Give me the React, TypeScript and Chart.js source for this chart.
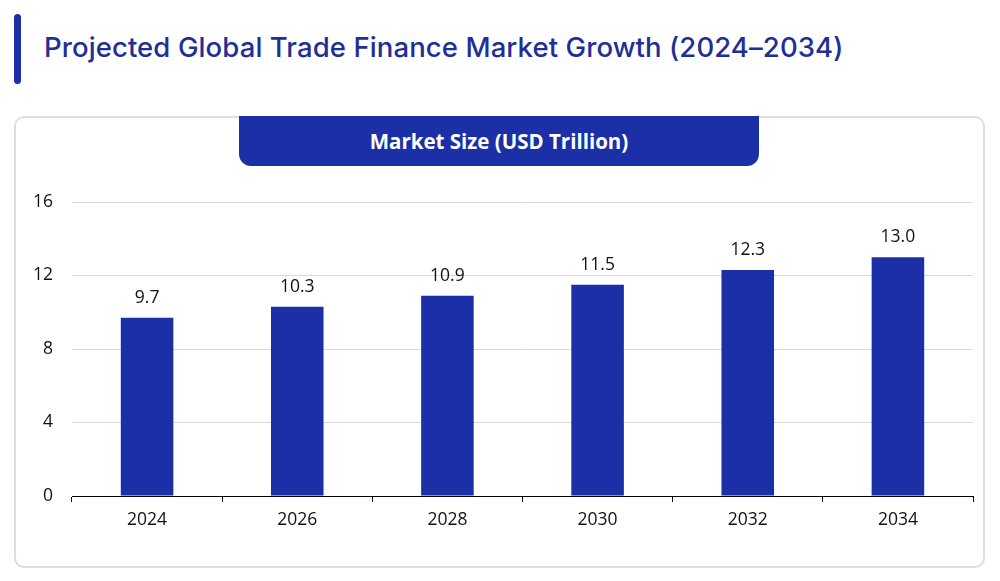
import React, { useEffect, useRef } from "react";
import { Chart, registerables } from "chart.js";

Chart.register(...registerables);

const categories: string[] = ["2024", "2026", "2028", "2030", "2032", "2034"];
const marketSize: number[] = [9.7, 10.3, 10.9, 11.5, 12.3, 13.0];
const yTicks: number[] = [0, 4, 8, 12, 16];

const BLUE = "#1b2fa6";
const FONT = "'Open Sans', sans-serif";

const valueLabels = {
  id: "valueLabels",
  afterDatasetsDraw(chart: any) {
    const ctx = chart.ctx;
    const meta = chart.getDatasetMeta(0);
    ctx.save();
    ctx.font = `17.5px ${FONT}`;
    ctx.fillStyle = "#111";
    ctx.textAlign = "center";
    ctx.textBaseline = "middle";
    meta.data.forEach((bar: any, i: number) => {
      const v = marketSize[i];
      ctx.fillText(v.toFixed(1), bar.x, bar.y - 20);
    });
    ctx.restore();
  },
};

export default function App() {
  const ref = useRef<HTMLCanvasElement | null>(null);

  useEffect(() => {
    if (!ref.current) return;
    const chart = new Chart(ref.current, {
      type: "bar",
      data: {
        labels: categories,
        datasets: [
          {
            data: marketSize,
            backgroundColor: BLUE,
            barPercentage: 0.7,
            categoryPercentage: 0.5,
          },
        ],
      },
      options: {
        animation: false,
        responsive: false,
        maintainAspectRatio: false,
        layout: { padding: { left: 0, right: 12, top: 36, bottom: 0 } },
        plugins: { legend: { display: false }, tooltip: { enabled: false } },
        scales: {
          x: {
            offset: true,
            grid: {
              display: true,
              offset: true,
              drawOnChartArea: false,
              drawTicks: true,
              tickLength: 6,
              color: "#000",
            },
            border: { display: true, color: "#000", width: 1 },
            ticks: {
              color: "#111",
              font: { family: FONT, size: 17.5 },
              padding: 8,
            },
            afterFit: (scale: any) => {
              scale.height = 70;
            },
          },
          y: {
            min: 0,
            max: 16,
            afterBuildTicks: (scale: any) => {
              scale.ticks = yTicks.map((v) => ({ value: v }));
            },
            grid: { color: "#d9d9d9", lineWidth: 1, drawTicks: false },
            border: { display: false },
            ticks: {
              color: "#111",
              font: { family: FONT, size: 17.5 },
              padding: 19,
            },
            afterFit: (scale: any) => {
              scale.width = 58;
            },
          },
        },
      },
      plugins: [valueLabels],
    });
    return () => chart.destroy();
  }, []);

  return (
    <div
      style={{
        position: "absolute",
        left: 0,
        top: 0,
        width: 1000,
        height: 581,
        background: "#fff",
        overflow: "hidden",
      }}
    >
      <div
        style={{
          position: "absolute",
          left: 14,
          top: 14,
          width: 7,
          height: 70,
          borderRadius: 4,
          background: BLUE,
        }}
      />
      <div
        style={{
          position: "absolute",
          left: 44,
          top: 27,
          fontFamily: "Inter, sans-serif",
          fontWeight: 500,
          fontSize: 27.5,
          letterSpacing: 0.1,
          lineHeight: "40px",
          color: "#1e2f97",
          whiteSpace: "nowrap",
        }}
      >
        Projected Global Trade Finance Market Growth (2024–2034)
      </div>
      <div
        style={{
          position: "absolute",
          left: 14,
          top: 116,
          width: 971,
          height: 452,
          boxSizing: "border-box",
          border: "2px solid #dedede",
          borderRadius: 10,
        }}
      />
      <div
        style={{
          position: "absolute",
          left: 239,
          top: 116,
          width: 520,
          height: 50,
          background: BLUE,
          borderRadius: "0 0 12px 12px",
          color: "#fff",
          fontFamily: FONT,
          fontWeight: 700,
          fontSize: 20.5,
          lineHeight: "50px",
          textAlign: "center",
        }}
      >
        Market Size (USD Trillion)
      </div>
      <canvas
        ref={ref}
        width={971}
        height={400}
        style={{ position: "absolute", left: 14, top: 166, width: 971, height: 400 }}
      />
    </div>
  );
}
